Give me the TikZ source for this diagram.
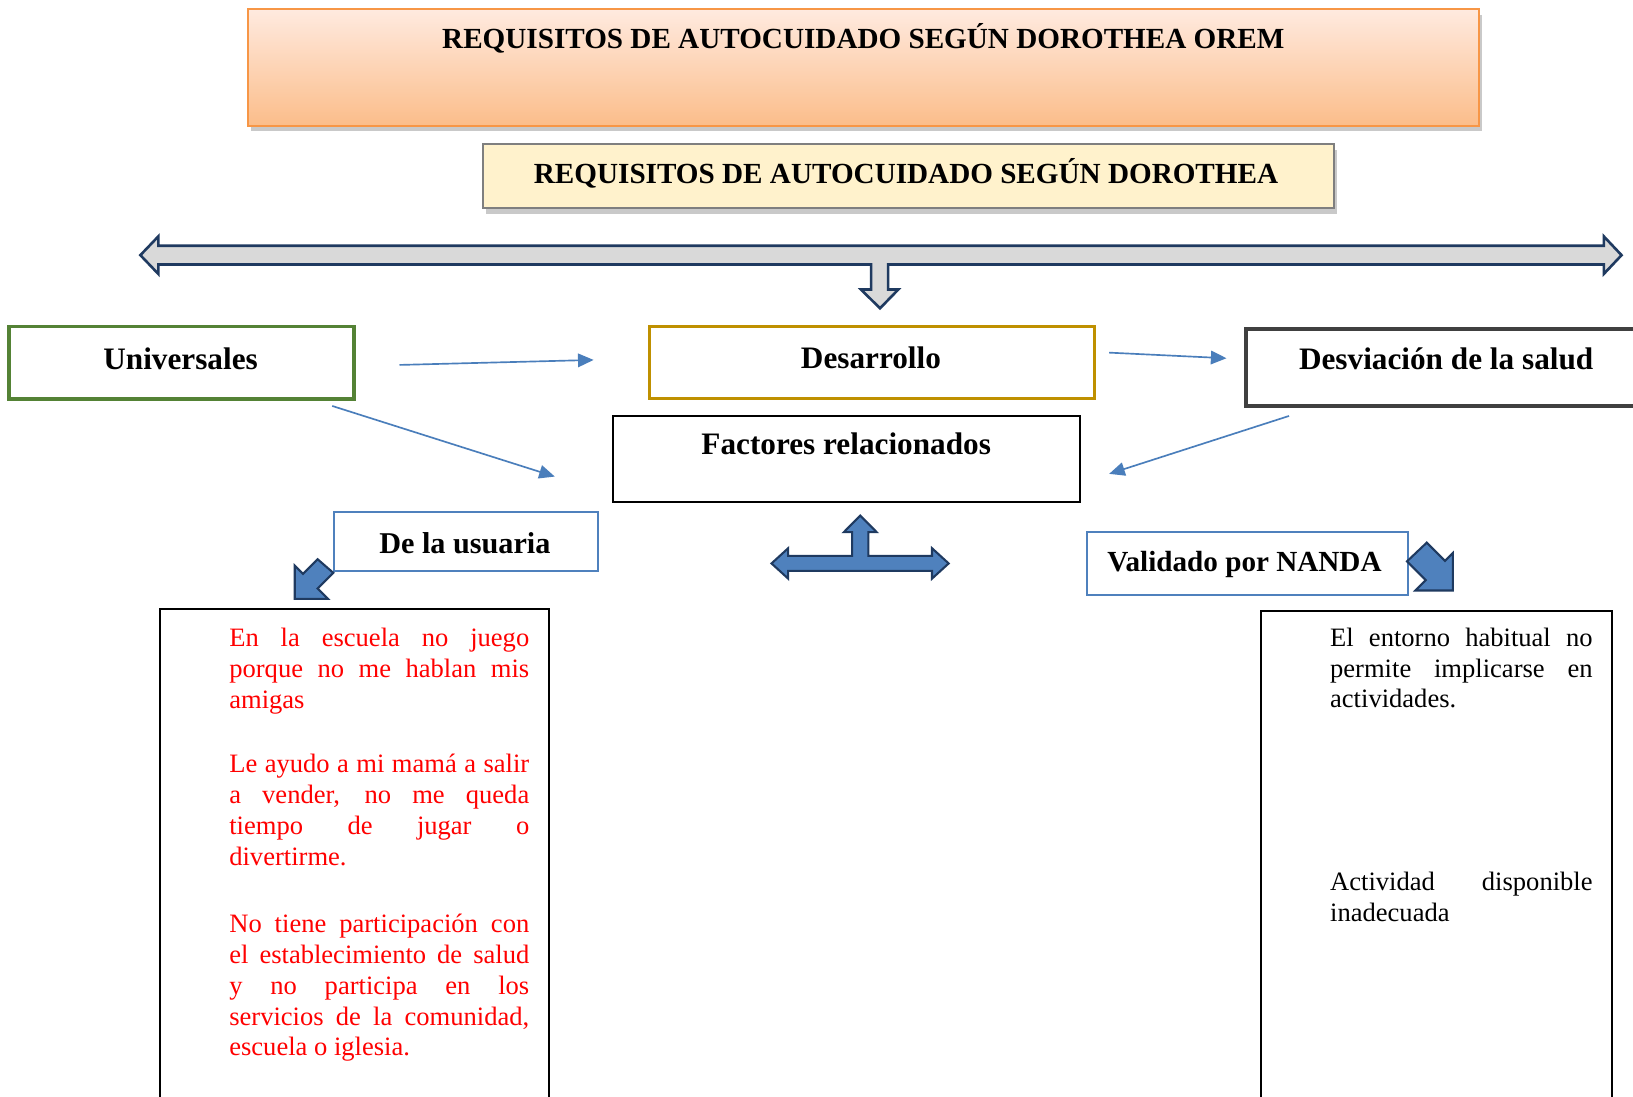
\documentclass[tikz,border=0pt]{standalone}
\usepackage{fontspec}
\setmainfont{Liberation Serif}
\usetikzlibrary{arrows.meta,shadows,fit}
\definecolor{navy}{HTML}{1F3A60}
\definecolor{ablue}{HTML}{4F81BD}
\definecolor{cblue}{HTML}{4A7EBB}
\definecolor{agray}{HTML}{D9D9D9}
\definecolor{ogreen}{HTML}{548235}
\definecolor{ogold}{HTML}{BF9000}
\definecolor{odark}{HTML}{404040}
\definecolor{oorange}{HTML}{F79646}
\definecolor{otop}{HTML}{FFEADF}
\definecolor{obot}{HTML}{FBBD8A}
\definecolor{ocream}{HTML}{FFF2CC}
\definecolor{ogrey}{HTML}{7F7F7F}
\definecolor{ored}{HTML}{FF0000}
\hbadness=10000
\begin{document}
\begin{tikzpicture}[x=1pt,y=-1pt,
  hdr/.style={font={\bfseries\fontsize{30}{36}\selectfont}, inner sep=0pt, anchor=base},
  ttl/.style={font={\bfseries\fontsize{28}{33}\selectfont}, inner sep=0pt, anchor=base},
  para/.style={font={\fontsize{25.5}{29.6}\selectfont\hyphenpenalty=10000}, text width=288pt, align=justify, inner sep=0pt, anchor=base west},
  rpara/.style={para, text width=252pt},
  frame/.style={inner sep=0pt, fill=white},
  conn/.style={draw=cblue, line width=1.6pt, -{Triangle[length=15pt,width=13pt]}},
  blockarrow/.style={fill=ablue, draw=navy, line width=2pt, line join=miter},
  grayarrow/.style={fill=agray, draw=navy, line width=2.5pt, line join=miter},
  shadowed/.style={drop shadow={opacity=0.35, fill=black!60, shadow xshift=3pt, shadow yshift=-5pt}}
]
\clip (0,0) rectangle (1568,1052.4);
\fill[white] (0,0) rectangle (1568,1052.4);

% title boxes
\node[frame, fit={(238,9) (1420,121)}, draw=oorange, line width=1.8pt, top color=otop, bottom color=obot, shadowed] (title) {};
\node[ttl] (titleT) at (829,46.4) {REQUISITOS DE AUTOCUIDADO SEGÚN DOROTHEA OREM};
\node[frame, fit={(464,138.6) (1281,200)}, draw=ogrey, line width=1.8pt, fill=ocream, shadowed] (sub) {};
\node[ttl] (subT) at (870,176) {REQUISITOS DE AUTOCUIDADO SEGÚN DOROTHEA};

% big gray arrow
\filldraw[grayarrow] (134.8,245) -- (152,227) -- (152,236) -- (1540,236) -- (1540,227) -- (1557,245)
  -- (1540,263) -- (1540,254) -- (852.7,254) -- (852.7,278) -- (862.5,278) -- (845,296)
  -- (826.7,278) -- (836.5,278) -- (836.5,254) -- (152,254) -- (152,263) -- cycle;

% category boxes
\node[frame, fit={(8.6,313.6) (340,383)}, draw=ogreen, line width=3.2pt] (univ) {};
\node[hdr] (univT) at (173.4,354.6) {Universales};
\node[frame, fit={(623.6,313.6) (1050.9,382.4)}, draw=ogold, line width=3.2pt] (des) {};
\node[hdr] (desT) at (836.3,353.6) {Desarrollo};
\node[frame, fit={(1196.6,316) (1600,389.8)}, draw=odark, line width=3.6pt] (dev) {};
\node[hdr] (devT) at (1388.6,355) {Desviación de la salud};
\node[frame, fit={(589,399) (1036.6,482)}, draw=black, line width=2pt] (fac) {};
\node[hdr] (facT) at (812.5,436.8) {Factores relacionados};
\node[frame, fit={(320.6,491.5) (574,548)}, draw=ablue, line width=2.2pt] (usu) {};
\node[hdr, font={\bfseries\fontsize{29}{34}\selectfont}] (usuT) at (446.4,531) {De la usuaria};
\node[frame, fit={(1043.4,511) (1352,571)}, draw=ablue, line width=2.2pt] (nanda) {};
\node[ttl] (nandaT) at (1194.9,548.8) {Validado por NANDA};

% connectors
\coordinate (a1) at (383.6,350.4); \coordinate (a2) at (570,345.6);
\coordinate (b1) at (319,389.8);   \coordinate (b2) at (532.7,457.6);
\coordinate (c1) at (1065,338.6);  \coordinate (c2) at (1177.7,344);
\coordinate (d1) at (1237.7,399.4); \coordinate (d2) at (1065,455);
\draw[conn] (a1) -- (a2);
\draw[conn] (b1) -- (b2);
\draw[conn] (c1) -- (c2);
\draw[conn] (d1) -- (d2);

% tri arrow
\filldraw[blockarrow] (740.8,541) -- (756.8,526.4) -- (756.8,533.8) -- (818.2,533.8) -- (818.2,511)
  -- (810.2,511) -- (826,495) -- (841.8,511) -- (833.8,511) -- (833.8,533.8) -- (894.9,533.8)
  -- (894.9,526.4) -- (910.9,541) -- (894.9,555.6) -- (894.9,548.2) -- (756.8,548.2)
  -- (756.8,555.6) -- cycle;

% bent arrows
\filldraw[blockarrow] (305,537) -- (291,551) -- (283,543) -- (283,575) -- (315,575) -- (305,565) -- (320,550) -- cycle;
\filldraw[blockarrow] (1351,539) -- (1369,557) -- (1359,567) -- (1395,567) -- (1395,531) -- (1387.5,538.5) -- (1370,521) -- cycle;

% text boxes
\node[frame, fit={(154,585) (527,1100)}, draw=black, line width=1.8pt] (left) {};
\node[frame, fit={(1211,587) (1548,1100)}, draw=black, line width=1.8pt] (right) {};

\node[para, text=ored] (p1) at (220,620.8) {En la escuela no juego\linebreak porque no me hablan mis\linebreak amigas};
\node[para, text=ored] (p2) at (220,741.8) {Le ayudo a mi mamá a salir\linebreak a vender, no me queda\linebreak tiempo de jugar o\linebreak divertirme.};
\node[para, text=ored] (p3) at (220,895.4) {No tiene participación con\linebreak el establecimiento de salud\linebreak y no participa en los\linebreak servicios de la comunidad,\linebreak escuela o iglesia.};

\node[rpara] (r1) at (1277,620.5) {El entorno habitual no\linebreak permite implicarse en\linebreak actividades.};
\node[rpara] (r2) at (1277,855.3) {Actividad disponible\linebreak inadecuada};
\end{tikzpicture}
\end{document}
